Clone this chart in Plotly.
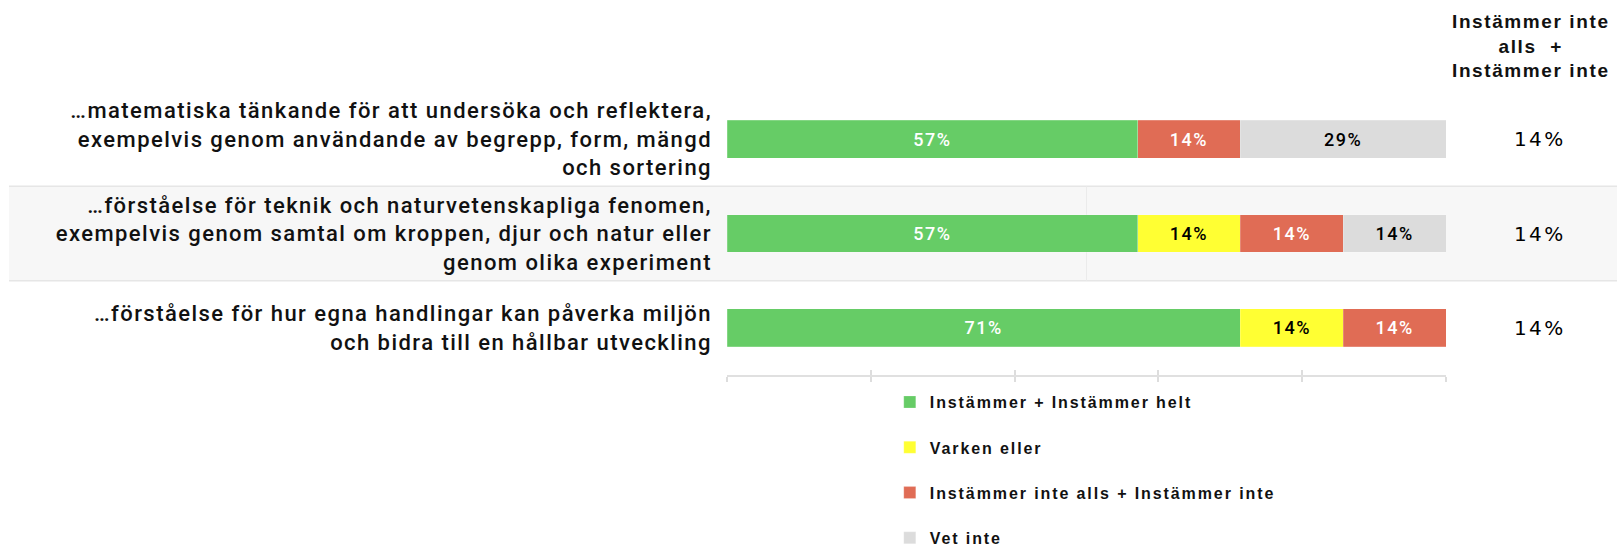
import plotly.graph_objects as go

categories = [
    "…matematiska tänkande för att undersöka och reflektera,<br>exempelvis genom användande av begrepp, form, mängd<br>och sortering",
    "…förståelse för teknik och naturvetenskapliga fenomen,<br>exempelvis genom samtal om kroppen, djur och natur eller<br>genom olika experiment",
    "…förståelse för hur egna handlingar kan påverka miljön<br>och bidra till en hållbar utveckling",
]
series_names = [
    "Instämmer + Instämmer helt",
    "Varken eller",
    "Instämmer inte alls + Instämmer inte",
    "Vet inte",
]
agree = [57.1, 57.1, 71.4]
neither = [None, 14.3, 14.3]
disagree = [14.3, 14.3, 14.3]
dontknow = [28.6, 14.3, None]
disagree_total = [14, 14, 14]
side_header = "Instämmer inte<br>alls  +<br>Instämmer inte"

colors = ["#66CC66", "#FFFF33", "#E06C55", "#DCDCDC"]
text_colors = ["white", "black", "white", "black"]

LABEL_FONT = "Roboto, Liberation Sans, sans-serif"
SANS = "Liberation Sans, Arial, sans-serif"
DEJAVU = "DejaVu Sans, sans-serif"

def ls(text, px):
    return f"<span style='letter-spacing:{px}px'>{text}</span>"

fig = go.Figure()
for name, vals, col, tcol in zip(series_names, [agree, neither, disagree, dontknow], colors, text_colors):
    fig.add_trace(go.Bar(
        y=categories, x=vals, orientation="h", name=ls(name, 1.9),
        legendgroup=name,
        marker=dict(color=col, line=dict(color="rgba(255,255,255,0.4)", width=0.5)),
        width=0.4,
        texttemplate=ls("%{x:.0f}%", 1.5),
        textposition="inside", insidetextanchor="middle", textangle=0,
        constraintext="none",
        textfont=dict(family=LABEL_FONT, size=18, color=tcol, weight=500),
        hoverinfo="skip",
    ))

# invisible trace on overlay axis for inward ticks
fig.add_trace(go.Scatter(x=[0, 100], y=[categories[0], categories[0]], xaxis="x2",
                         mode="markers", marker=dict(opacity=0), showlegend=False, hoverinfo="skip"))

# grey band behind second row
fig.add_shape(type="rect", xref="paper", yref="y", x0=-0.9986, x1=1.25, y0=0.5, y1=1.5,
              fillcolor="#F7F7F7", line=dict(width=0), layer="below")
for yv in [0.5, 1.5]:
    fig.add_shape(type="line", xref="paper", yref="y", x0=-0.9986, x1=1.25, y0=yv, y1=yv,
                  line=dict(color="#E6E6E6", width=1.5), layer="below")
fig.add_shape(type="line", xref="x", yref="y", x0=50, x1=50, y0=0.5, y1=1.5,
              line=dict(color="#EBEBEB", width=1), layer="below")

# right column
for cat, v in zip(categories, disagree_total):
    fig.add_annotation(x=1.1307, xref="paper", y=cat, yref="y", text=ls(f"{v}%", 2.4),
                       showarrow=False, font=dict(family=DEJAVU, size=20, color="#000"),
                       xanchor="center", yanchor="middle")
fig.add_annotation(x=1.118, xref="paper", y=1.1625, yref="paper", text=ls(side_header, 1.6),
                   showarrow=False, font=dict(family=SANS, size=19, color="#111", weight="bold"),
                   xanchor="center", yanchor="middle", align="center")

fig.update_layout(
    width=1617, height=547,
    margin=dict(l=727, r=171, t=92, b=172, autoexpand=False),
    barmode="stack",
    paper_bgcolor="white", plot_bgcolor="rgba(0,0,0,0)",
    showlegend=True,
    legend=dict(orientation="v", x=0.2264, xanchor="left", y=-0.0356, yanchor="top",
                traceorder="grouped", tracegroupgap=21.5,
                font=dict(family=SANS, size=16, color="#111", weight="bold"),
                itemwidth=30, bgcolor="rgba(0,0,0,0)"),
    xaxis=dict(range=[0, 100], tickvals=[0, 20, 40, 60, 80, 100], showticklabels=False,
               ticks="outside", ticklen=5, tickwidth=1.5, tickcolor="#DDDDDD",
               showline=True, linecolor="#E0E0E0", linewidth=2,
               showgrid=False, zeroline=False, fixedrange=True, automargin=False),
    xaxis2=dict(range=[0, 100], overlaying="x", side="bottom", anchor="y",
                tickvals=[0, 20, 40, 60, 80, 100], showticklabels=False,
                ticks="inside", ticklen=5, tickwidth=1.5, tickcolor="#DDDDDD",
                showline=False, showgrid=False, zeroline=False, automargin=False),
    yaxis=dict(range=[2.5, -0.5], categoryorder="array", categoryarray=categories,
               showgrid=False, zeroline=False, showline=False, ticks="",
               ticklabelstandoff=14, automargin=False,
               tickfont=dict(family=LABEL_FONT, size=22, color="#111", weight=500)),
)
fig.update_yaxes(ticktext=[ls(c, 1.45) for c in categories], tickvals=categories)

fig.write_html("out.html", config={"displayModeBar": False},
               post_script="document.body.style.margin='0';document.body.style.overflow='hidden';")
